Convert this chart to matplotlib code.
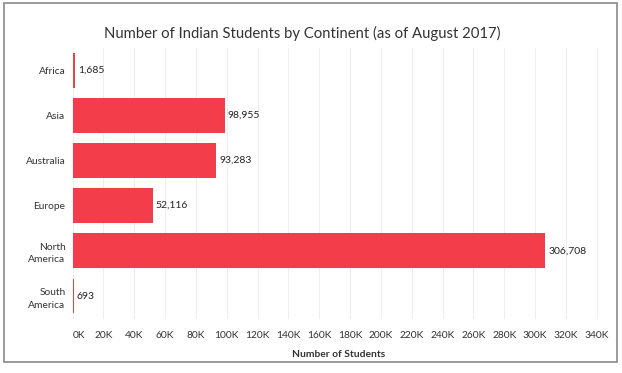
import matplotlib
matplotlib.use("Agg")
import matplotlib.pyplot as plt
import matplotlib.patches as mpatches
from matplotlib.ticker import FuncFormatter

# ─── Data ─────────────────────────────────────────────────────────────────────
continents = ["Africa", "Asia", "Australia", "Europe", "North\nAmerica", "South\nAmerica"]
students = [1685, 98955, 93283, 52116, 306708, 693]
x_ticks = list(range(0, 340001, 20000))

BAR = "#f43d4b"
TXT = "#333333"

plt.rcParams.update({
    "font.family": ["Lato", "DejaVu Sans"],
    "font.size": 7,
})

fig = plt.figure(figsize=(6.22, 3.73), dpi=100)
fig.patch.set_facecolor("white")

# marco exterior
fig.add_artist(mpatches.Rectangle((4 / 622, 1 - 362 / 373), 613 / 622, 359 / 373,
                                  transform=fig.transFigure, fill=False,
                                  edgecolor="#8a8a8a", linewidth=1.2))

ax = fig.add_axes([72.5 / 622, 1 - 318.6 / 373, 532 / 622, 271 / 373])

ypos = list(range(len(continents)))
bars = ax.barh(ypos, students, height=0.77, color=BAR, zorder=3)

for b, v in zip(bars, students):
    ax.text(b.get_width() + 1800, b.get_y() + b.get_height() / 2, f"{v:,}",
            va="center", ha="left", fontsize=7.5, color="#222222")

ax.set_ylim(len(continents) - 0.5, -0.5)
ax.set_xlim(0, 345000)
ax.set_yticks(ypos)
ax.set_yticklabels(continents, fontsize=7.4, color=TXT, ha="right", linespacing=1.5)
ax.set_xticks(x_ticks)
ax.xaxis.set_major_formatter(FuncFormatter(lambda v, p: f"{int(v / 1000)}K"))
ax.tick_params(axis="x", length=0, pad=9, labelsize=7.4, labelcolor=TXT)
ax.tick_params(axis="y", length=0, pad=5)
fig.canvas.draw()
ax.get_xticklabels()[0].set_horizontalalignment("left")

ax.grid(True, axis="x", color="#eeeeee", linewidth=0.8, zorder=0)
for s in ax.spines.values():
    s.set_visible(False)

ax.set_xlabel("Number of Students", fontsize=7.4, fontweight="bold", color=TXT, labelpad=7)
fig.text(0.486, 1 - 33 / 373, "Number of Indian Students by Continent (as of August 2017)",
         ha="center", va="center", fontsize=10.7, color="#333333")

fig.savefig("out.png", dpi=100)
